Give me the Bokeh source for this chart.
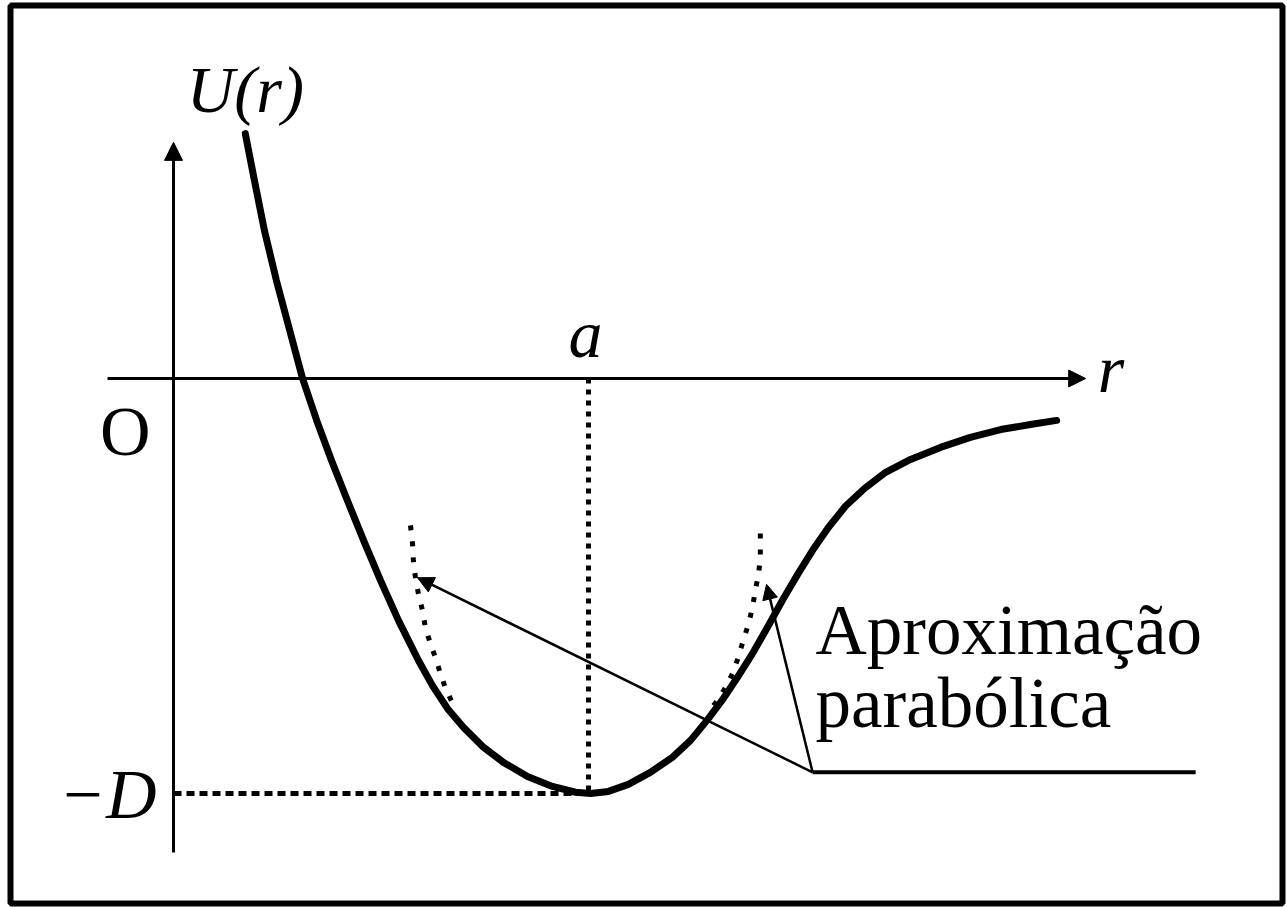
from bokeh.plotting import figure
from bokeh.models import Arrow, NormalHead, Range1d
from bokeh.core.properties import value
from bokeh.embed import file_html
from bokeh.resources import INLINE

# Interatomic potential U(r), r in units of a, U in units of D
r_curve = [0.173, 0.195, 0.219, 0.248, 0.280, 0.311, 0.345, 0.381, 0.419, 0.458,
           0.499, 0.542, 0.590, 0.624, 0.660, 0.699, 0.745, 0.795, 0.853, 0.913,
           0.969, 1.005, 1.048, 1.096, 1.149, 1.202, 1.246, 1.287, 1.323, 1.359,
           1.395, 1.431, 1.467, 1.504, 1.540, 1.578, 1.619, 1.665, 1.716, 1.776,
           1.848, 1.920, 1.993, 2.065, 2.128]
u_curve = [0.590, 0.477, 0.357, 0.236, 0.116, 0.000, -0.101, -0.198, -0.294, -0.390,
           -0.487, -0.583, -0.679, -0.740, -0.795, -0.841, -0.887, -0.925, -0.959, -0.983,
           -0.997, -1.000, -0.995, -0.978, -0.949, -0.913, -0.872, -0.822, -0.774, -0.720,
           -0.663, -0.600, -0.535, -0.472, -0.414, -0.359, -0.308, -0.265, -0.226, -0.195,
           -0.166, -0.142, -0.123, -0.111, -0.101]

# Parabolic approximation near the minimum (the two visible arms)
r_par_left = [0.571, 0.576, 0.578, 0.583, 0.590, 0.600, 0.607, 0.619, 0.631, 0.643, 0.655, 0.675]
u_par_left = [-0.354, -0.398, -0.439, -0.480, -0.518, -0.559, -0.600, -0.639, -0.672, -0.711, -0.745, -0.788]
r_par_right = [1.301, 1.311, 1.330, 1.347, 1.361, 1.373, 1.386, 1.395, 1.402, 1.410, 1.414, 1.414, 1.414]
u_par_right = [-0.788, -0.776, -0.745, -0.711, -0.672, -0.631, -0.590, -0.552, -0.511, -0.470, -0.431, -0.390, -0.347]

# Characteristic values
a_eq = 1.0      # equilibrium separation
d_depth = 1.0   # depth of the well

SERIF = value("Liberation Serif")

p = figure(width=1287, height=907,
           x_range=Range1d(-0.3928, 2.6723), y_range=Range1d(-1.2651, 0.8988),
           output_backend="svg", toolbar_location=None,
           x_axis_type=None, y_axis_type=None,
           min_border_left=10, min_border_right=5, min_border_top=5, min_border_bottom=4)
p.grid.visible = False
p.outline_line_color = "black"
p.outline_line_width = 6
p.background_fill_color = "white"
p.border_fill_color = "white"

# Axes with arrow heads
p.add_layout(Arrow(end=NormalHead(size=18, fill_color="black", line_color="black", line_width=1),
                   x_start=0, y_start=-1.142, x_end=0, y_end=0.569,
                   line_width=3, line_color="black"))
p.add_layout(Arrow(end=NormalHead(size=17, fill_color="black", line_color="black", line_width=1),
                   x_start=-0.159, y_start=0, x_end=2.198, y_end=0,
                   line_width=3, line_color="black"))

# Guides to a and -D
p.line([0, a_eq], [-d_depth, -d_depth], line_color="black", line_width=5, line_dash="8 5")
p.line([a_eq, a_eq], [0, -d_depth], line_color="black", line_width=5, line_dash="5 6")

# Parabola (dotted)
p.line(r_par_left, u_par_left, line_color="black", line_width=5, line_dash="5 11")
p.line(r_par_right, u_par_right, line_color="black", line_width=5, line_dash="5 11")

# Potential curve
p.line(r_curve, u_curve, line_color="black", line_width=7, line_join="round", line_cap="round")

# Callout for the parabolic approximation
p.line([1.540, 2.463], [-0.949, -0.949], line_color="black", line_width=4)
p.add_layout(Arrow(end=NormalHead(size=16, fill_color="black", line_color="black", line_width=1),
                   x_start=1.540, y_start=-0.949, x_end=0.588, y_end=-0.480,
                   line_width=2.5, line_color="black"))
p.add_layout(Arrow(end=NormalHead(size=15, fill_color="black", line_color="black", line_width=1),
                   x_start=1.540, y_start=-0.949, x_end=1.429, y_end=-0.496,
                   line_width=2.5, line_color="black"))

# Labels
p.text(x=[0.173], y=[0.697], text=["U(r)"], text_font=SERIF, text_font_style="italic",
       text_font_size="66px", text_align="center", text_baseline="middle", text_color="black")
p.text(x=[0.993], y=[0.108], text=["a"], text_font=SERIF, text_font_style="italic",
       text_font_size="68px", text_align="center", text_baseline="alphabetic", text_color="black")
p.text(x=[2.227], y=[0.024], text=["r"], text_font=SERIF, text_font_style="italic",
       text_font_size="68px", text_align="left", text_baseline="alphabetic", text_color="black")
p.text(x=[-0.116], y=[-0.128], text=["O"], text_font=SERIF,
       text_font_size="70px", text_align="center", text_baseline="alphabetic", text_color="black")
p.text(x=[-0.041], y=[-1.002], text=["\u2212D"], text_font=SERIF, text_font_style="italic",
       text_font_size="70px", text_align="right", text_baseline="alphabetic", text_color="black")
p.text(x=[1.547, 1.547], y=[-0.607, -0.781], text=["Aproximação", "parabólica"], text_font=SERIF,
       text_font_size="71px", text_align="left", text_baseline="alphabetic", text_color="black")

open("out.html", "w").write(file_html(p, INLINE))
